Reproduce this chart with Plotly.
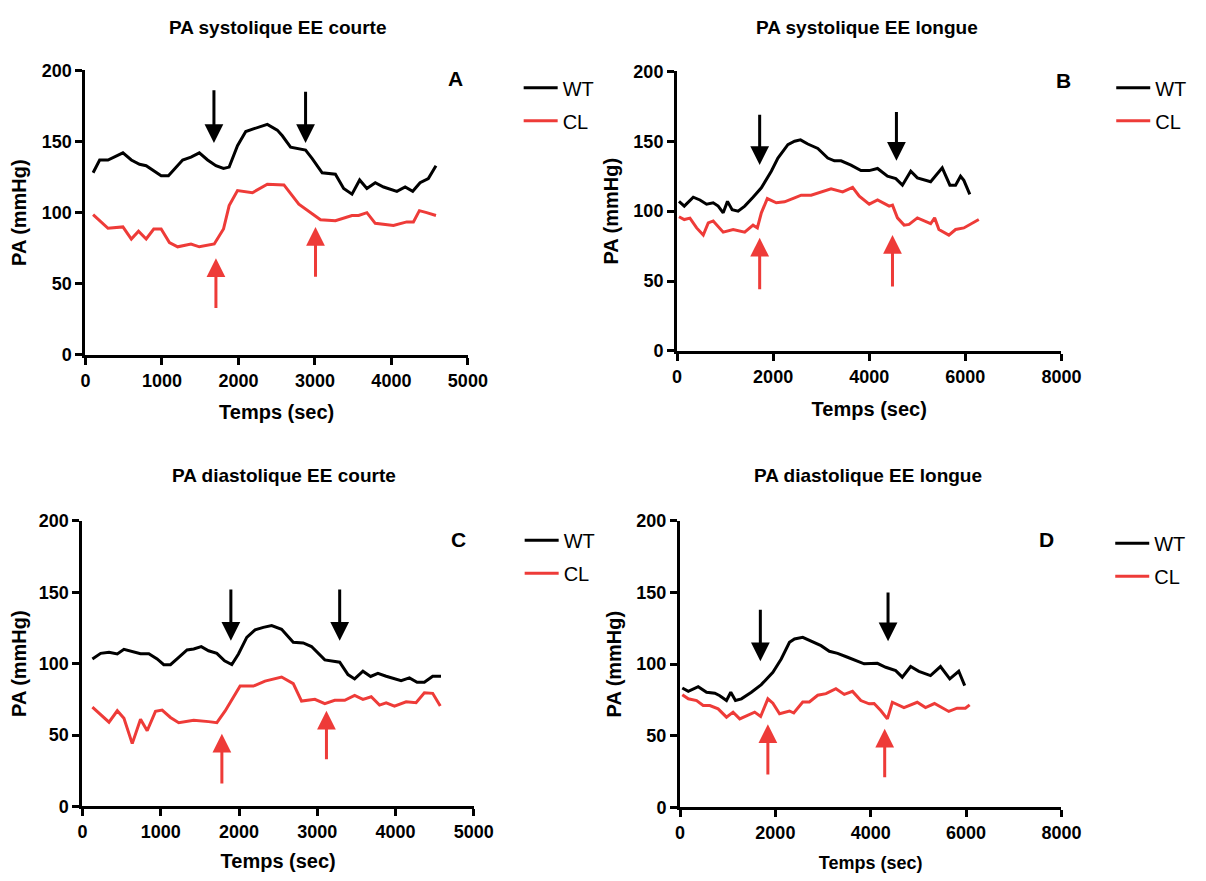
import plotly.graph_objects as go

# ---------------- data ----------------
# Panel A : PA systolique EE courte
xA_wt = [100, 186, 295, 490, 600, 707, 794, 990, 1085, 1271, 1380, 1489, 1597, 1706, 1805, 1879, 1988, 2096,
         2205, 2378, 2508, 2574, 2682, 2878, 2965, 3095, 3268, 3376, 3485, 3585, 3680, 3789, 3898, 4072, 4180,
         4279, 4375, 4483, 4583]
yA_wt = [128, 137, 137, 142, 137, 134, 133, 126, 126, 137, 139, 142, 137, 133, 131, 132, 147, 157,
         159, 162, 158, 154, 146, 144, 138, 128, 127, 117, 113, 123, 117, 121, 118, 115, 118,
         115, 121, 124, 133]
xA_cl = [100, 295, 490, 600, 694, 794, 893, 990, 1098, 1206, 1380, 1489, 1684, 1805, 1879, 1988, 2183, 2378,
         2595, 2790, 3073, 3268, 3485, 3572, 3680, 3789, 4027, 4201, 4288, 4366, 4461, 4583]
yA_cl = [98.6, 89, 90, 81.5, 87, 81.5, 88.5, 88.5, 79, 76, 78, 76, 78, 88.5, 105, 115.5, 114, 120,
         119.5, 106, 95, 94.4, 98, 98, 100, 92.5, 91, 93.5, 93.5, 101.4, 100, 98]

# Panel B : PA systolique EE longue
xB_wt = [41, 151, 338, 477, 615, 753, 857, 961, 1050, 1147, 1271, 1409, 1582, 1755, 1962, 2100, 2307, 2446,
         2570, 2722, 2930, 3137, 3275, 3413, 3620, 3828, 4000, 4173, 4380, 4553, 4691, 4864, 5002, 5278,
         5519, 5679, 5797, 5900, 5969, 6093]
yB_wt = [107, 103.6, 110, 108, 105, 106, 103.6, 98.8, 107, 101, 100, 103.6, 110, 116.7, 128.6, 138, 147.6, 150,
         151, 148, 144.8, 138, 136, 136, 132.9, 129, 129, 130.5, 125, 123.3, 118.6, 128.6, 123.8, 121,
         131, 118.6, 118.6, 125, 122, 112]
xB_cl = [41, 151, 269, 408, 546, 650, 753, 961, 1168, 1409, 1582, 1672, 1755, 1879, 2066, 2238, 2446, 2584,
         2791, 2999, 3206, 3447, 3654, 3793, 4000, 4173, 4415, 4484, 4587, 4726, 4829, 5002, 5140, 5278,
         5361, 5450, 5657, 5797, 5969, 6280]
yB_cl = [96, 94, 95, 88, 82.9, 91.6, 93, 85, 86.9, 85, 90, 88, 98.8, 109, 106, 106.7, 109.5, 111.4,
         111.4, 113.6, 116, 113.8, 117, 110.7, 105, 108, 103.6, 104.3, 95.2, 90, 90.5, 95.2, 92.9, 91,
         95.2, 86.9, 82.9, 86.9, 88, 94]

# Panel C : PA diastolique EE courte
xC_wt = [127, 233, 339, 445, 530, 636, 742, 848, 954, 1039, 1124, 1230, 1336, 1421, 1518, 1611, 1717, 1815,
         1908, 1993, 2099, 2205, 2311, 2417, 2544, 2693, 2820, 2926, 3096, 3286, 3392, 3477, 3583, 3681,
         3774, 3880, 4071, 4177, 4275, 4368, 4474, 4580]
yC_wt = [103.3, 107.2, 108, 106.8, 110, 108.6, 107, 107, 103.3, 99.3, 99.3, 104.4, 109.6, 110.3, 111.9, 109,
         107.2, 102, 99.3, 106.8, 118.4, 123.6, 125.4, 126.6, 124, 115, 114.5, 112, 102.6, 101, 92.3, 89.3,
         94.7, 91, 93.2, 91.2, 88, 90, 87, 87, 91.2, 91.2]
xC_cl = [127, 233, 339, 445, 530, 636, 742, 827, 933, 1018, 1124, 1230, 1421, 1611, 1717, 1823, 2014, 2184,
         2332, 2544, 2693, 2799, 2969, 3096, 3223, 3350, 3477, 3583, 3689, 3795, 3880, 3986, 4135, 4262,
         4368, 4474, 4571]
yC_cl = [69.5, 64.4, 59, 67, 61.7, 44, 61.1, 53, 66.6, 67.5, 62.3, 58.6, 60.4, 59.4, 58.7, 66.9, 84.3, 84.3,
         87.8, 90.6, 86, 73.8, 75, 72, 74.3, 74.3, 77.8, 75, 76.8, 71, 72.6, 70.3, 73.3, 72.6,
         79.6, 79.2, 70.3]

# Panel D : PA diastolique EE longue
xD_wt = [48, 174, 382, 557, 731, 835, 975, 1065, 1163, 1288, 1497, 1705, 1948, 2123, 2296, 2401, 2574, 2750,
         2958, 3132, 3305, 3514, 3689, 3862, 4140, 4315, 4524, 4662, 4837, 5010, 5254, 5463, 5658, 5846, 5971]
yD_wt = [83.4, 81, 84.3, 80.4, 79.7, 78, 74.6, 80.4, 74.6, 75.8, 80.4, 85.7, 94.3, 103.6, 115.2, 117.6, 118.7,
         115.9, 112.9, 109, 107.5, 104.8, 102.5, 100.2, 100.6, 97.8, 95.5, 90.9, 98.3, 95, 92, 98.3, 89.7, 95, 85]
xD_cl = [48, 174, 348, 486, 626, 800, 975, 1113, 1253, 1566, 1691, 1843, 1948, 2088, 2296, 2386, 2574, 2713,
         2888, 3062, 3270, 3445, 3618, 3793, 3967, 4071, 4210, 4349, 4453, 4697, 4975, 5149, 5337, 5637,
         5810, 5985, 6075]
yD_cl = [78.7, 75.8, 74.6, 71.1, 71.1, 68.8, 63, 66.5, 61.8, 66.5, 63.5, 75.8, 72.8, 65.4, 67.3, 65.9, 73.6,
         73.6, 78.3, 79.4, 82.9, 78.9, 81, 74.6, 72.3, 72.5, 67.6, 61.8, 73.4, 69.7, 73.4, 69.7, 72.5, 67,
         69.3, 69.3, 71.6]

# event arrows: (time, tip value, tail value)
arrows_wt = {
    "A": [(1680, 149, 187), (2878, 149, 186)],
    "B": [(1720, 133, 170), (4566, 136, 172)],
    "C": [(1896, 116, 153), (3286, 116, 153)],
    "D": [(1685, 102, 139), (4363, 116, 151)],
}
arrows_cl = {
    "A": [(1706, 68, 32), (3008, 90, 54)],
    "B": [(1720, 81, 43), (4484, 83, 45)],
    "C": [(1781, 51, 15), (3117, 67, 32)],
    "D": [(1843, 58, 22), (4293, 55, 20)],
}

titles = {
    "A": "PA systolique EE courte",
    "B": "PA systolique EE longue",
    "C": "PA diastolique EE courte",
    "D": "PA diastolique EE longue",
}
series = {
    "A": (xA_wt, yA_wt, xA_cl, yA_cl),
    "B": (xB_wt, yB_wt, xB_cl, yB_cl),
    "C": (xC_wt, yC_wt, xC_cl, yC_cl),
    "D": (xD_wt, yD_wt, xD_cl, yD_cl),
}
x_max = {"A": 5000, "B": 8000, "C": 5000, "D": 8000}
x_step = {"A": 1000, "B": 2000, "C": 1000, "D": 2000}
y_ticks = [0, 50, 100, 150, 200]
x_label = "Temps (sec)"
y_label = "PA (mmHg)"
series_names = ["WT", "CL"]

# ---------------- layout (pixels of the reference picture) ----------------
PAGE_W, PAGE_H = 1206, 881
OFF = 8  # default body margin of the html page
W, H = PAGE_W - 2 * OFF, PAGE_H - 2 * OFF
# calibration of picture pixels vs page pixels
SX, BX = 0.983, 2.4
SY, BY = 0.978, 8.8
BLACK = "#000000"
RED = "#EE3B38"
FONT = "Liberation Sans, Arial, sans-serif"

# plot-area pixel boxes: left, right, top(200), bottom(0)
boxes = {
    "A": (83, 467, 69, 354),
    "B": (677, 1063, 70, 350),
    "C": (80, 473, 520, 806),
    "D": (680, 1063, 520, 807),
}
title_pos = {"A": (276, 26), "B": (868, 26), "C": (282, 475), "D": (869, 475)}
letter_pos = {"A": (455, 77), "B": (1065, 79), "C": (458, 539), "D": (1048, 539)}
legend_pos = {"A": (518, 67), "B": (1113, 67), "C": (519, 520), "D": (1112, 523)}
xtitle_font = {"A": 20, "B": 20, "C": 20, "D": 18}
xtitle_standoff = {"A": 16, "B": 17, "C": 13, "D": 17}


def px(x):
    return ((x - BX) / SX - OFF) / W


def py(y):
    return 1 - ((y - BY) / SY - OFF) / H


fig = go.Figure()
annotations = []
layout_axes = {}

for i, key in enumerate(["A", "B", "C", "D"]):
    n = "" if i == 0 else str(i + 1)
    xa, ya = "x" + n, "y" + n
    xw, yw, xc, yc = series[key]
    leg = "legend" if i == 0 else "legend" + str(i + 1)
    fig.add_trace(go.Scatter(x=xw, y=yw, mode="lines", name=series_names[0], line=dict(color=BLACK, width=3),
                             xaxis=xa, yaxis=ya, legend=leg, legendgroup=key + "wt"))
    fig.add_trace(go.Scatter(x=xc, y=yc, mode="lines", name=series_names[1], line=dict(color=RED, width=3),
                             xaxis=xa, yaxis=ya, legend=leg, legendgroup=key + "cl"))

    l, r, t, b = boxes[key]
    common = dict(showline=True, linewidth=3, linecolor=BLACK, ticks="outside", ticklen=7, tickwidth=3,
                  tickcolor=BLACK, showgrid=False, zeroline=False,
                  tickfont=dict(family=FONT, size=18, color=BLACK, weight="bold"))
    layout_axes["xaxis" + n] = dict(common, domain=[px(l), px(r)], range=[0, x_max[key]],
                                    tickvals=list(range(0, x_max[key] + 1, x_step[key])),
                                    anchor=ya,
                                    title=dict(text=x_label, standoff=xtitle_standoff[key],
                                               font=dict(family=FONT, size=xtitle_font[key], color=BLACK,
                                                         weight="bold")))
    layout_axes["yaxis" + n] = dict(common, domain=[py(b), py(t)], range=[0, 200], tickvals=y_ticks,
                                    anchor=xa,
                                    title=dict(text=y_label, standoff=10,
                                               font=dict(family=FONT, size=20, color=BLACK, weight="bold")))
    lx, ly = legend_pos[key]
    layout_axes[leg] = dict(x=px(lx), y=py(ly), xanchor="left", yanchor="top",
                            font=dict(family=FONT, size=20, color=BLACK),
                            bgcolor="rgba(0,0,0,0)", traceorder="grouped", tracegroupgap=4,
                            itemwidth=34)

    tx, ty = title_pos[key]
    annotations.append(dict(text=titles[key], x=px(tx), y=py(ty), xref="paper", yref="paper",
                            showarrow=False, xanchor="center", yanchor="middle",
                            font=dict(family=FONT, size=19, color=BLACK, weight="bold")))
    cx, cy = letter_pos[key]
    annotations.append(dict(text=key, x=px(cx), y=py(cy), xref="paper", yref="paper",
                            showarrow=False, xanchor="center", yanchor="middle",
                            font=dict(family=FONT, size=21, color=BLACK, weight="bold")))
    for (ax_t, tip, tail) in arrows_wt[key]:
        annotations.append(dict(x=ax_t, y=tip, ax=ax_t, ay=tail, xref=xa, yref=ya, axref=xa, ayref=ya,
                                text="", showarrow=True, arrowhead=2, arrowsize=1.25, arrowwidth=3,
                                arrowcolor=BLACK, standoff=0))
    for (ax_t, tip, tail) in arrows_cl[key]:
        annotations.append(dict(x=ax_t, y=tip, ax=ax_t, ay=tail, xref=xa, yref=ya, axref=xa, ayref=ya,
                                text="", showarrow=True, arrowhead=2, arrowsize=1.25, arrowwidth=3,
                                arrowcolor=RED, standoff=0))

fig.update_layout(width=W, height=H, margin=dict(l=0, r=0, t=0, b=0),
                  paper_bgcolor="white", plot_bgcolor="white", showlegend=True,
                  annotations=annotations, **layout_axes)

fig.write_html("out.html")
